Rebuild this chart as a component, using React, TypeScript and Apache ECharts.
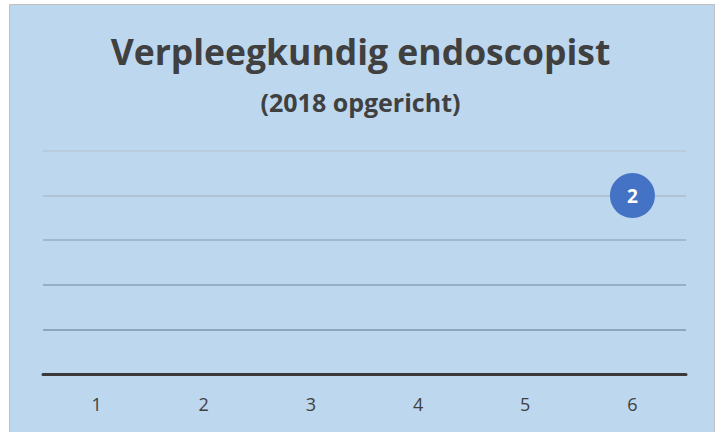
import React, { useEffect, useRef } from "react";
import * as echarts from "echarts";

const categories = ["1", "2", "3", "4", "5", "6"];
const pointCategory = ["6"];
const pointY = [4];
const pointSize = [2];
const yTicks = [0, 1, 2, 3, 4, 5];

export default function App() {
  const ref = useRef<HTMLDivElement>(null);
  useEffect(() => {
    document.body.style.margin = "0";
    const chart = echarts.init(ref.current!, null, { renderer: "svg" });
    chart.setOption({
      animation: false,
      backgroundColor: "#ffffff",
      graphic: [
        {
          type: "rect",
          shape: { x: 9.5, y: 4.5, width: 705, height: 440 },
          style: { fill: "#BDD7EE", stroke: "#BFBFBF", lineWidth: 1 },
          z: -10,
        },
      ],
      title: [
        {
          text: "Verpleegkundig endoscopist",
          left: "center",
          top: 28,
          textStyle: {
            fontFamily: "Open Sans",
            fontWeight: "bold",
            fontSize: 35.5,
            color: "#404040",
          },
        },
        {
          text: "(2018 opgericht)",
          left: "center",
          top: 84,
          textStyle: {
            fontFamily: "Open Sans",
            fontWeight: "bold",
            fontSize: 25,
            color: "#404040",
          },
        },
      ],
      grid: { left: 43, right: 35, top: 151, bottom: 58, containLabel: false },
      xAxis: {
        type: "category",
        data: categories,
        boundaryGap: true,
        axisLine: { show: true, lineStyle: { color: "#3A3A3A", width: 3 } },
        axisTick: { show: false },
        axisLabel: {
          color: "#404040",
          fontFamily: "Open Sans",
          fontSize: 18,
          margin: 21,
        },
        splitLine: { show: false },
        z: 5,
      },
      yAxis: {
        type: "value",
        min: yTicks[0],
        max: yTicks[yTicks.length - 1],
        interval: 1,
        axisLine: { show: false },
        axisTick: { show: false },
        axisLabel: { show: false },
        splitLine: {
          show: true,
          lineStyle: {
            width: 1.5,
            color: ["#3A3A3A", "#7E94A7", "#8DA2B5", "#9AAEC0", "#AABDCE", "#B9C9D8"],
          },
        },
      },
      series: [
        {
          type: "scatter",
          data: pointCategory.map((c, i) => [c, pointY[i], pointSize[i]]),
          symbolSize: (v: number[]) => v[2] * 22.5,
          itemStyle: { color: "#4472C4", opacity: 1 },
          label: {
            show: true,
            position: "inside",
            formatter: (p: any) => String(p.value[2]),
            color: "#ffffff",
            fontWeight: "bold",
            fontFamily: "Open Sans",
            fontSize: 19,
          },
          z: 10,
        },
      ],
    });
    return () => chart.dispose();
  }, []);
  return <div ref={ref} style={{ width: 721, height: 432 }} />;
}
